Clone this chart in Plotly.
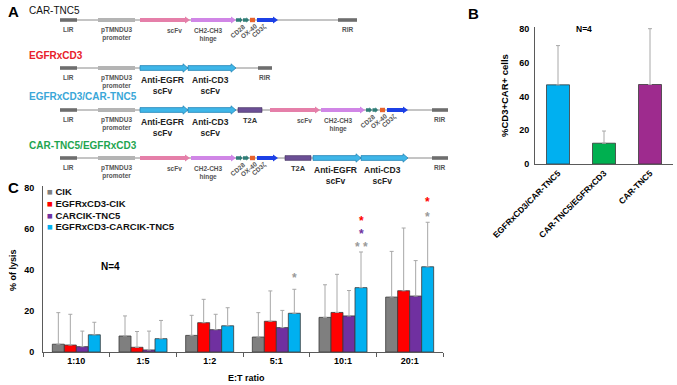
import plotly.graph_objects as go

FONT = "Liberation Sans, Arial, sans-serif"
W, H = 677, 385

# ---------------- Panel A: construct maps (element, start, end) ----------------
construct_names = ["CAR-TNC5", "EGFRxCD3", "EGFRxCD3/CAR-TNC5", "CAR-TNC5/EGFRxCD3"]
car_tnc5 = [("LIR", 60, 77), ("pTMNDU3", 98, 135), ("scFv", 140, 190), ("hinge", 191, 236),
            ("CD28", 236, 249), ("OX40", 250, 255), ("CD3z", 257, 278), ("RIR", 338, 357)]
egfrxcd3 = [("LIR", 60, 77), ("pTMNDU3", 98, 135), ("antiEGFR", 140, 188),
            ("antiCD3", 188, 236), ("RIR", 258, 272)]
egfrxcd3_car = [("LIR", 60, 77), ("pTMNDU3", 98, 135), ("antiEGFR", 140, 188),
                ("antiCD3", 188, 236), ("T2A", 238, 262), ("scFv", 270, 320),
                ("hinge", 321, 365), ("CD28", 366, 378), ("OX40", 380, 385),
                ("CD3z", 387, 408), ("RIR", 432, 448)]
car_egfrxcd3 = [("LIR", 60, 77), ("pTMNDU3", 98, 135), ("scFv", 140, 190), ("hinge", 191, 236),
                ("CD28", 236, 249), ("OX40", 250, 255), ("CD3z", 257, 278), ("T2A", 285, 311),
                ("antiEGFR", 313, 361), ("antiCD3", 361, 408), ("RIR", 432, 448)]
constructs = [car_tnc5, egfrxcd3, egfrxcd3_car, car_egfrxcd3]

# ---------------- Panel B ----------------
b_groups = ["EGFRxCD3/CAR-TNC5", "CAR-TNC5/EGFRxCD3", "CAR-TNC5"]
b_values = [46.8, 12.3, 47.0]
b_err = [23.2, 7.2, 33.0]

# ---------------- Panel C ----------------
ratios = ["1:10", "1:5", "1:2", "5:1", "10:1", "20:1"]
series = ["CIK", "EGFRxCD3-CIK", "CARCIK-TNC5", "EGFRxCD3-CARCIK-TNC5"]
cik = [3.8, 7.8, 8.1, 7.3, 16.9, 26.8]
cik_err = [15.4, 9.8, 9.8, 11.9, 15.9, 22.3]
egfr_cik = [3.4, 2.3, 14.3, 15.0, 19.3, 29.9]
egfr_cik_err = [15.0, 7.7, 11.4, 14.8, 18.6, 30.6]
carcik = [2.6, 1.0, 10.9, 11.9, 17.6, 27.3]
carcik_err = [7.6, 9.2, 7.5, 8.4, 12.4, 17.3]
egfr_carcik = [8.4, 6.5, 12.8, 18.9, 31.4, 41.6]
egfr_carcik_err = [6.1, 8.9, 8.8, 11.7, 17.4, 21.7]
# significance marks above EGFRxCD3-CARCIK-TNC5 bars: (ratio index, y, text, vs series)
star_idx = [3, 4, 4, 4, 5, 5]
star_y = [37.4, 52.5, 58.9, 65.4, 67.5, 74.8]
star_txt = ["*", "* *", "*", "*", "*", "*"]
star_vs = [0, 0, 2, 1, 0, 1]

C_COLORS = ["#7f7f7f", "#ff0000", "#7030a0", "#00b0f0"]
STAR_COLORS = ["#9a9a9a", "#ff0000", "#7030a0"]
B_COLORS = ["#00b0f0", "#00b050", "#9e2b8e"]

fig = go.Figure()

# ---- Panel C bars ----
vals = [cik, egfr_cik, carcik, egfr_carcik]
errs = [cik_err, egfr_cik_err, carcik_err, egfr_carcik_err]
for name, v, e, c in zip(series, vals, errs, C_COLORS):
    fig.add_trace(go.Bar(
        x=ratios, y=v, name=name, marker=dict(color=c, line=dict(color="#3a3a3a", width=0.8)),
        error_y=dict(type="data", array=e, arrayminus=[0] * len(e), symmetric=False,
                     color="#a8a8a8", thickness=1, width=2),
        xaxis="x", yaxis="y", showlegend=False))

# ---- Panel B bars ----
fig.add_trace(go.Bar(
    x=b_groups, y=b_values, width=0.5,
    marker=dict(color=B_COLORS, line=dict(color="#3a3a3a", width=0.8)),
    error_y=dict(type="data", array=b_err, arrayminus=[0] * 3, symmetric=False,
                 color="#a8a8a8", thickness=1, width=2),
    xaxis="x2", yaxis="y2", showlegend=False))

# invisible trace for panel A axes
fig.add_trace(go.Scatter(x=[0, 460], y=[0, 178], mode="markers", marker=dict(opacity=0),
                         xaxis="x3", yaxis="y3", showlegend=False, hoverinfo="skip"))

shapes, ann = [], []

def bold(size, color="#000"):
    return dict(family=FONT, size=size, color=color, weight="bold")

# ---- Panel A drawing ----
row_y = [20, 68, 110, 158]
title_y = [10, 55, 96, 145]
title_col = ["#111111", "#e8202a", "#3aa7d8", "#1fa550"]

def arrow(x0, x1, y, h, Hh, L):
    return (f"M{x0},{y - h} L{x1 - L},{y - h} L{x1 - L},{y - Hh} L{x1},{y} "
            f"L{x1 - L},{y + Hh} L{x1 - L},{y + h} L{x0},{y + h} Z")

def box(x0, x1, y, h, fill, line=None):
    shapes.append(dict(type="rect", xref="x3", yref="y3", x0=x0, x1=x1, y0=y - h, y1=y + h,
                       fillcolor=fill, line=dict(color=line or fill, width=0.6 if line else 0)))

def path(p, fill, line=None, lw=0.6):
    shapes.append(dict(type="path", xref="x3", yref="y3", path=p, fillcolor=fill,
                       line=dict(color=line or fill, width=lw if line else 0)))

def label(x, y, text, size=6.5, color="#555", xanchor="center", yanchor="top", angle=0):
    ann.append(dict(xref="x3", yref="y3", x=x, y=y, text=text, showarrow=False,
                    xanchor=xanchor, yanchor=yanchor, textangle=angle,
                    font=bold(size, color)))

for k, (elems, name) in enumerate(zip(constructs, construct_names)):
    y = row_y[k]
    ann.append(dict(xref="x3", yref="y3", x=27, y=title_y[k], text=name, showarrow=False,
                    xanchor="left", yanchor="middle",
                    font=dict(family=FONT, size=10, color=title_col[k],
                              weight="normal" if k == 0 else "bold")))
    x_start, x_end = elems[0][1], elems[-1][2]
    shapes.append(dict(type="line", xref="x3", yref="y3", x0=x_start, x1=x_end, y0=y, y1=y,
                       line=dict(color="#8a8a8a", width=1), layer="below"))
    for kind, s, e in elems:
        cx = (s + e) / 2
        if kind in ("LIR", "RIR"):
            box(s, e, y, 1.8, "#6e6e6e")
            label(cx, y + 4, kind)
        elif kind == "pTMNDU3":
            box(s, e, y, 2.0, "#b4b4b4")
            label(cx, y + 3.5, "pTMNDU3<br>promoter")
        elif kind == "scFv":
            path(arrow(s, e, y, 2.0, 3.5, 5), "#e57fa9")
            label(e - 6, y + 4.5, "scFv", xanchor="right")
        elif kind == "hinge":
            path(arrow(s, e, y, 2.0, 3.5, 5), "#d086e6")
            label(s + 1, y + 4.5, "CH2-CH3<br>hinge", xanchor="left")
        elif kind == "CD28":
            m = (s + e) / 2
            path(arrow(s, m, y, 1.8, 2.8, 2.5), "#2f7d77")
            path(arrow(m + 0.5, e, y, 1.8, 2.8, 2.5), "#2f7d77")
            label(s + 1, y + 11, "CD28", angle=-40, yanchor="middle")
        elif kind == "OX40":
            box(s, e, y, 2.2, "#e8632b")
            label(s - 2, y + 11, "OX-40", angle=-40, yanchor="middle")
        elif kind == "CD3z":
            path(arrow(s, e, y, 2.0, 3.5, 5), "#1c40e6")
            label(s + 2, y + 11, "CD3ζ", angle=-40, yanchor="middle")
        elif kind in ("antiEGFR", "antiCD3"):
            path(arrow(s, e, y, 2.4, 4.2, 5), "#3fb6e8", line="#1f7fb0", lw=0.7)
            txt = "Anti-EGFR<br>scFv" if kind == "antiEGFR" else "Anti-CD3<br>scFv"
            label(cx - 2, y + 5, txt, size=8.5, color="#222")
        elif kind == "T2A":
            box(s, e, y, 2.4, "#6b4f95", line="#3f2d5c")
            label(cx, y + 4, "T2A", size=7.5, color="#333")

# ---- Panel C significance asterisks (over last series bars) ----
for i, yv, t, vs in zip(star_idx, star_y, star_txt, star_vs):
    ann.append(dict(xref="x", yref="y", x=i + 0.27, y=yv, text=t, showarrow=False,
                    yshift=-3, font=bold(12, STAR_COLORS[vs])))

# ---- Panel C legend (manual, compact) ----
for j, (name, c) in enumerate(zip(series, C_COLORS)):
    ann.append(dict(xref="paper", yref="paper", x=45 / W, y=1 - (192 + 11.6 * j) / H,
                    text=f"<span style='color:{c}'>■</span> {name}", showarrow=False,
                    xanchor="left", yanchor="middle", font=bold(9.5, "#111")))

# ---- Panel labels & titles ----
def pann(x, y, text, size, angle=0, xanchor="center"):
    ann.append(dict(xref="paper", yref="paper", x=x / W, y=1 - y / H, text=text,
                    showarrow=False, xanchor=xanchor, yanchor="middle", textangle=angle,
                    font=bold(size, "#000")))

pann(6, 11, "A", 15, xanchor="left")
pann(473, 13, "B", 15, xanchor="center")
pann(6, 188, "C", 15, xanchor="left")
pann(584, 29, "N=4", 8.5)
pann(505, 96, "%CD3+CAR+ cells", 9.5, angle=-90)
pann(110, 266, "N=4", 10)
pann(13, 270, "% of lysis", 9, angle=-90)
pann(246, 378, "E:T ratio", 9)

axis_common = dict(showgrid=False, zeroline=False, showline=True, linecolor="#5a5a5a",
                   linewidth=1, tickfont=bold(9, "#000"), automargin=False)

fig.update_layout(
    width=W, height=H, margin=dict(l=0, r=0, t=0, b=0, autoexpand=False),
    paper_bgcolor="white", plot_bgcolor="white",
    barmode="group", bargap=0.28, bargroupgap=0,
    font=dict(family=FONT),
    xaxis=dict(domain=[43 / W, 443 / W], anchor="y", type="category",
               tickson="boundaries", ticks="outside", ticklen=4, tickcolor="#5a5a5a",
               **axis_common),
    yaxis=dict(domain=[(H - 352) / H, (H - 186) / H], anchor="x", range=[0, 81],
               tickvals=[0, 20, 40, 60, 80], ticks="", ticklabelstandoff=6, **axis_common),
    xaxis2=dict(domain=[535 / W, 673 / W], anchor="y2", type="category", tickangle=-45,
                ticks="", **{**axis_common, "tickfont": bold(8.5, "#000")}),
    yaxis2=dict(domain=[(H - 164) / H, (H - 27) / H], anchor="x2", range=[0, 81],
                tickvals=[0, 20, 40, 60, 80], ticks="", ticklabelstandoff=3, **axis_common),
    xaxis3=dict(domain=[0, 460 / W], anchor="y3", range=[0, 460], visible=False,
                fixedrange=True, automargin=False),
    yaxis3=dict(domain=[1 - 178 / H, 1], anchor="x3", range=[178, 0], visible=False,
                fixedrange=True, automargin=False),
    shapes=shapes, annotations=ann,
)

fig.write_html("out.html", config={"displayModeBar": False},
               post_script="document.body.style.margin='0';document.body.style.overflow='hidden';")
